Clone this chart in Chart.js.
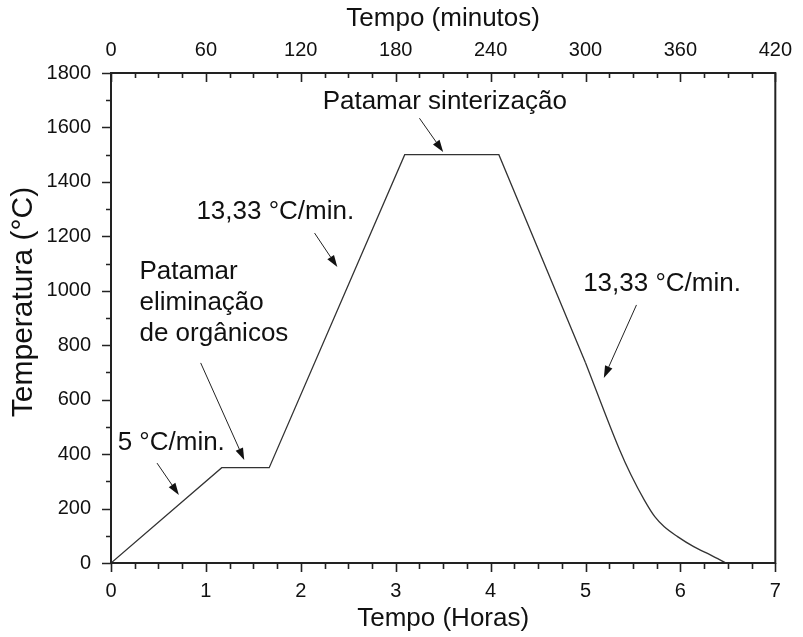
<!DOCTYPE html>
<html>
<head>
<meta charset="utf-8">
<script src="https://cdn.jsdelivr.net/npm/chart.js@4/dist/chart.umd.min.js"></script>
<style>
  html, body { margin: 0; padding: 0; background: #fff; }
  #wrap { width: 803px; height: 637px; }
</style>
</head>
<body>
<div id="wrap"><canvas id="chart" width="803" height="637"></canvas></div>
<script>
// firing profile: time in hours, temperature in °C
const hours = [0, 1.167, 1.667, 3.095, 4.087, 5.0, 5.36, 5.48, 5.62, 5.73, 5.83, 5.97, 6.14, 6.32, 6.48];
const temps = [0, 350, 350, 1500, 1500, 736, 415, 323, 231, 170, 133, 97, 60, 29, 0];
// from this index on the furnace cools freely (curved tail)
const tailStart = 5;

// axis ticks
const hourTicks = [0, 1, 2, 3, 4, 5, 6, 7];
const minuteTicks = [0, 60, 120, 180, 240, 300, 360, 420];
const tempTicks = [0, 200, 400, 600, 800, 1000, 1200, 1400, 1600, 1800];

// annotation texts, anchored in data units (hours, °C)
const noteTexts = [
  ['Patamar sinterização'],
  ['13,33 °C/min.'],
  ['Patamar', 'eliminação', 'de orgânicos'],
  ['5 °C/min.'],
  ['13,33 °C/min.']
];
const noteAnchors = [[2.23, 1693], [0.90, 1289], [0.30, 1069], [0.07, 441], [4.975, 1025]];
const arrowFrom = [[3.25, 1634], [2.145, 1212], [0.945, 735], [0.485, 367], [5.537, 948]];
const arrowTo = [[3.50, 1510], [2.385, 1087], [1.404, 378], [0.715, 250], [5.193, 680]];

const FONT = '"Liberation Sans", Arial, sans-serif';
const INK = '#111';

const framePlugin = {
  id: 'frame',
  afterDatasetsDraw(chart) {
    const { ctx, chartArea: a, scales } = chart;
    const x = scales.x, x2 = scales.x2, y = scales.y;
    ctx.save();
    ctx.strokeStyle = '#222';
    ctx.lineWidth = 2;
    ctx.strokeRect(a.left, a.top, a.right - a.left, a.bottom - a.top);

    ctx.lineWidth = 1.6;
    ctx.beginPath();
    // bottom axis: ticks point outward
    for (let v = 0; v <= 7.001; v += 0.25) {
      const px = Math.round(x.getPixelForValue(v)) + 0.5;
      const len = Math.abs(v - Math.round(v)) < 1e-6 ? 9 : 6;
      ctx.moveTo(px, a.bottom);
      ctx.lineTo(px, a.bottom + len);
    }
    // top axis: ticks point inward
    for (let v = 0; v <= 420.001; v += 15) {
      const px = Math.round(x2.getPixelForValue(v)) + 0.5;
      const len = v % 60 === 0 ? 9 : 5;
      ctx.moveTo(px, a.top);
      ctx.lineTo(px, a.top + len);
    }
    // left axis: ticks point outward
    for (let v = 0; v <= 1800; v += 100) {
      const py = Math.round(y.getPixelForValue(v)) + 0.5;
      const len = v % 200 === 0 ? 9 : 5;
      ctx.moveTo(a.left, py);
      ctx.lineTo(a.left - len, py);
    }
    ctx.stroke();

    ctx.fillStyle = INK;

    // y axis title, sits a little above the middle in the original
    ctx.save();
    ctx.font = '30px ' + FONT;
    ctx.textAlign = 'center';
    ctx.textBaseline = 'middle';
    ctx.translate(24, 302);
    ctx.rotate(-Math.PI / 2);
    ctx.fillText('Temperatura (°C)', 0, 0);
    ctx.restore();

    // annotations
    ctx.font = '26px ' + FONT;
    ctx.textAlign = 'left';
    ctx.textBaseline = 'middle';
    noteTexts.forEach((lines, i) => {
      const tx = x.getPixelForValue(noteAnchors[i][0]);
      const ty = y.getPixelForValue(noteAnchors[i][1]);
      lines.forEach((s, j) => ctx.fillText(s, tx, ty + j * 31));
    });

    // arrows
    ctx.strokeStyle = '#222';
    ctx.lineWidth = 1;
    arrowFrom.forEach((f, i) => {
      const x0 = x.getPixelForValue(f[0]), y0 = y.getPixelForValue(f[1]);
      const x1 = x.getPixelForValue(arrowTo[i][0]), y1 = y.getPixelForValue(arrowTo[i][1]);
      const ang = Math.atan2(y1 - y0, x1 - x0);
      const hl = 12, hw = 4;
      const bx = x1 - hl * Math.cos(ang), by = y1 - hl * Math.sin(ang);
      ctx.beginPath();
      ctx.moveTo(x0, y0);
      ctx.lineTo(bx, by);
      ctx.stroke();
      ctx.beginPath();
      ctx.moveTo(x1, y1);
      ctx.lineTo(bx + hw * Math.sin(ang), by - hw * Math.cos(ang));
      ctx.lineTo(bx - hw * Math.sin(ang), by + hw * Math.cos(ang));
      ctx.closePath();
      ctx.fill();
    });
    ctx.restore();
  }
};

const tickFont = { family: FONT, size: 20 };
const titleFont = { family: FONT, size: 26 };
const plain = v => String(v);
const pts = hours.map((h, i) => ({ x: h, y: temps[i] }));
const lineStyle = { borderColor: '#333', borderWidth: 1.3, pointRadius: 0, fill: false };

new Chart(document.getElementById('chart'), {
  type: 'line',
  data: {
    datasets: [
      { ...lineStyle, data: pts.slice(0, tailStart + 1), tension: 0 },
      { ...lineStyle, data: pts.slice(tailStart), cubicInterpolationMode: 'monotone' }
    ]
  },
  options: {
    responsive: false,
    animation: false,
    layout: { padding: { left: 0, right: 21, top: 0, bottom: 0 } },
    plugins: { legend: { display: false }, tooltip: { enabled: false } },
    scales: {
      x: {
        type: 'linear', position: 'bottom', min: 0, max: 7,
        afterBuildTicks: s => { s.ticks = hourTicks.map(v => ({ value: v })); },
        ticks: { font: tickFont, color: INK, padding: 16, maxRotation: 0, callback: plain },
        grid: { display: false, drawTicks: false },
        border: { display: false },
        title: { display: true, text: 'Tempo (Horas)', font: titleFont, color: INK, padding: { top: 0, bottom: 3 } },
        afterFit: s => { s.height = 74; }
      },
      x2: {
        type: 'linear', position: 'top', min: 0, max: 420,
        afterBuildTicks: s => { s.ticks = minuteTicks.map(v => ({ value: v })); },
        ticks: { font: tickFont, color: INK, padding: 11, maxRotation: 0, callback: plain },
        grid: { display: false, drawTicks: false },
        border: { display: false },
        title: { display: true, text: 'Tempo (minutos)', font: titleFont, color: INK, padding: { top: 3, bottom: 0 } },
        afterFit: s => { s.height = 73; }
      },
      y: {
        type: 'linear', position: 'left', min: 0, max: 1800,
        afterBuildTicks: s => { s.ticks = tempTicks.map(v => ({ value: v })); },
        ticks: { font: tickFont, color: INK, padding: 20, callback: plain },
        grid: { display: false, drawTicks: false },
        border: { display: false },
        title: { display: false },
        afterFit: s => { s.width = 111; }
      }
    }
  },
  plugins: [framePlugin]
});
</script>
</body>
</html>
